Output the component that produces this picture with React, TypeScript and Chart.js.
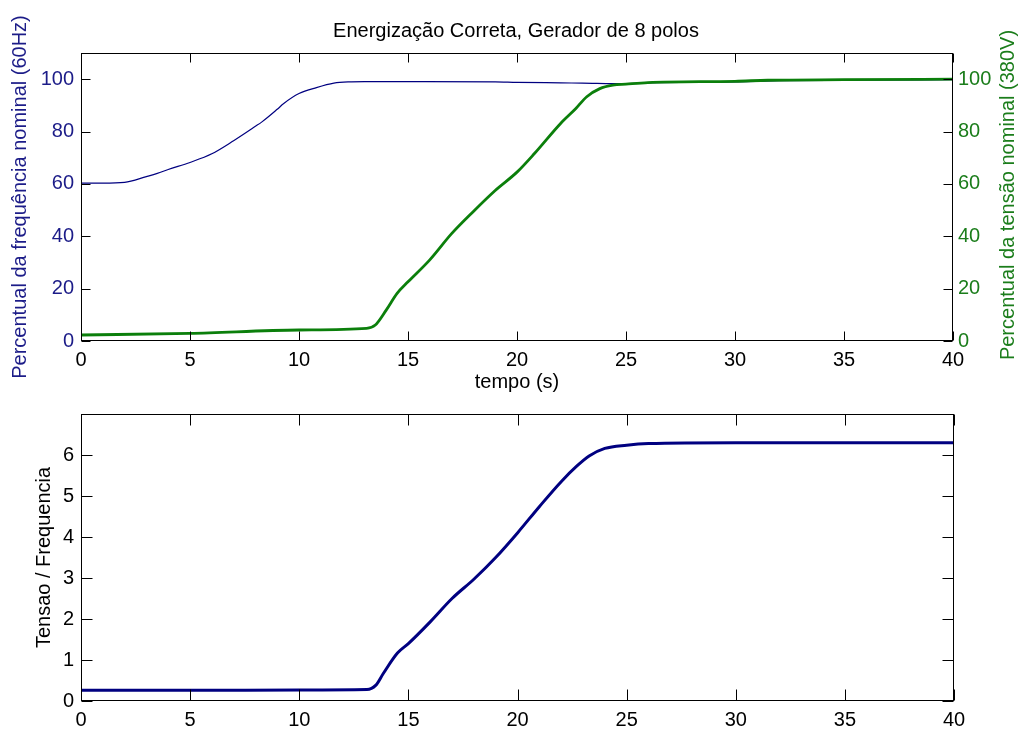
import React, { useEffect, useRef } from 'react';
import { Chart, registerables } from 'chart.js';

Chart.register(...registerables);

const FONT_FAMILY = "'Liberation Sans', Arial, Helvetica, sans-serif";
const BLUE = '#000080';
const BLUE_TEXT = '#1c1c88';
const GREEN = '#0b7f0b';
const GREEN_TEXT = '#1b7d1b';
const INK = '#000000';

const figureTitle = 'Energização Correta, Gerador de 8 polos';
const xAxisTitle = 'tempo (s)';
const freqAxisTitle = 'Percentual da frequência nominal (60Hz)';
const voltAxisTitle = 'Percentual da tensão nominal (380V)';
const ratioAxisTitle = 'Tensao / Frequencia';

const timeTicks = [0, 5, 10, 15, 20, 25, 30, 35, 40];
const pctTicks = [0, 20, 40, 60, 80, 100];
const ratioTicks = [0, 1, 2, 3, 4, 5, 6];

const freqTime = [0, 1, 2, 3, 3.5, 4, 5, 6, 7, 8, 8.3, 9, 9.3, 10, 10.8, 11.6, 12.4, 13, 15, 19, 20, 22, 23, 25, 26, 30, 32, 35, 40];
const freqPct = [60.3, 60.3, 60.6, 62.8, 64, 65.5, 68.2, 71.5, 76.5, 82, 83.7, 88.5, 90.7, 94.5, 96.8, 98.5, 99.0, 99.1, 99.1, 99.0, 98.8, 98.6, 98.5, 98.3, 98.6, 99.0, 99.4, 99.6, 99.8];

const voltTime = [0, 5, 10, 13.1, 13.5, 14, 14.5, 15, 16, 17, 18, 19, 20, 20.8, 22, 22.7, 23.2, 23.8, 24.4, 25, 26, 30, 31.5, 35, 40];
const voltPct = [2.3, 2.9, 4.2, 4.8, 6.1, 11.8, 18.2, 22.6, 31, 41, 49.5, 57.5, 64.5, 71.6, 83.1, 88.8, 93.3, 96.4, 97.7, 98.1, 98.7, 99.2, 99.6, 99.8, 100];

const ratioTime = [0, 5, 10, 13.1, 13.5, 13.85, 14.5, 15, 16, 17, 18, 19, 20, 21, 22, 22.7, 23.3, 24, 25, 26, 30, 35, 40];
const ratioVal = [0.26, 0.26, 0.27, 0.28, 0.38, 0.67, 1.17, 1.4, 1.93, 2.5, 2.97, 3.5, 4.1, 4.74, 5.35, 5.72, 5.98, 6.16, 6.24, 6.28, 6.3, 6.3, 6.3];

const font = (size: number) => ({ family: FONT_FAMILY, size, weight: 'normal' as const, lineHeight: 1.2 });

const toPoints = (xs: number[], ys: number[]) => xs.map((x, i) => ({ x, y: ys[i] }));

const setTicks = (values: number[]) => (scale: any) => {
  scale.ticks = values.map((v) => ({ value: v }));
};

const noGrid = { display: false, drawTicks: false, tickLength: 0 };

function framePlugin(rightId: string, tickLen: number) {
  return {
    id: 'matlabFrame',
    afterDraw(chart: any) {
      const { ctx, chartArea: a } = chart;
      const L = Math.round(a.left) + 0.5;
      const R = Math.round(a.right) - 0.5;
      const T = Math.round(a.top) + 0.5;
      const B = Math.round(a.bottom) - 0.5;
      ctx.save();
      ctx.strokeStyle = INK;
      ctx.lineWidth = 1;
      ctx.strokeRect(L, T, R - L, B - T);
      ctx.beginPath();
      const xs = chart.scales.x;
      xs.ticks.forEach((t: any) => {
        const p = Math.round(xs.getPixelForValue(t.value)) + 0.5;
        ctx.moveTo(p, B);
        ctx.lineTo(p, B - tickLen);
        ctx.moveTo(p, T);
        ctx.lineTo(p, T + tickLen);
      });
      const ys = chart.scales.y;
      ys.ticks.forEach((t: any) => {
        const p = Math.round(ys.getPixelForValue(t.value)) + 0.5;
        ctx.moveTo(L, p);
        ctx.lineTo(L + tickLen, p);
      });
      const rs = chart.scales[rightId];
      rs.ticks.forEach((t: any) => {
        const p = Math.round(rs.getPixelForValue(t.value)) + 0.5;
        ctx.moveTo(R, p);
        ctx.lineTo(R - tickLen, p);
      });
      ctx.stroke();
      ctx.restore();
    },
  };
}

const topTextPlugin = {
  id: 'topTexts',
  afterDraw(chart: any) {
    const { ctx, chartArea: a } = chart;
    ctx.save();
    ctx.font = `20px ${FONT_FAMILY}`;
    ctx.fillStyle = INK;
    ctx.textAlign = 'center';
    ctx.textBaseline = 'alphabetic';
    ctx.fillText(figureTitle, (a.left + a.right) / 2 - 1, 37);
    ctx.translate(1014, (a.top + a.bottom) / 2 - 2);
    ctx.rotate(-Math.PI / 2);
    ctx.fillStyle = GREEN_TEXT;
    ctx.fillText(voltAxisTitle, 0, 0);
    ctx.restore();
  },
};

export default function App() {
  const topRef = useRef<HTMLCanvasElement>(null);
  const bottomRef = useRef<HTMLCanvasElement>(null);

  useEffect(() => {
    if (!topRef.current || !bottomRef.current) return;

    const top = new Chart(topRef.current, {
      type: 'line',
      data: {
        datasets: [
          {
            label: 'Tensão',
            data: toPoints(voltTime, voltPct),
            yAxisID: 'y2',
            borderColor: GREEN,
            borderWidth: 2.8,
            pointRadius: 0,
            cubicInterpolationMode: 'monotone',
            order: 0,
          },
          {
            label: 'Frequência',
            data: toPoints(freqTime, freqPct),
            yAxisID: 'y',
            borderColor: BLUE,
            borderWidth: 1.2,
            pointRadius: 0,
            cubicInterpolationMode: 'monotone',
            order: 1,
          },
        ],
      },
      options: {
        responsive: false,
        animation: false,
        events: [],
        layout: { padding: { top: 53, left: 0, right: 0, bottom: 0 } },
        plugins: { legend: { display: false }, title: { display: false }, tooltip: { enabled: false } },
        scales: {
          x: {
            type: 'linear',
            position: 'bottom',
            min: 0,
            max: 40,
            grid: noGrid,
            border: { display: false },
            ticks: { font: font(20), color: INK, padding: 7, maxRotation: 0, autoSkip: false },
            afterBuildTicks: setTicks(timeTicks),
            afterFit: (s: any) => { s.height = 54; },
            title: { display: true, text: xAxisTitle, color: INK, font: font(20), padding: { top: 0, bottom: 1 } },
          },
          y: {
            type: 'linear',
            position: 'left',
            min: 0,
            max: 110,
            grid: noGrid,
            border: { display: false },
            ticks: { font: font(20), color: BLUE_TEXT, padding: 7, autoSkip: false },
            afterBuildTicks: setTicks(pctTicks),
            afterFit: (s: any) => { s.width = 81; },
            title: { display: true, text: freqAxisTitle, color: BLUE_TEXT, font: font(20), padding: { top: 8, bottom: 0 } },
          },
          y2: {
            type: 'linear',
            position: 'right',
            min: 0,
            max: 110,
            grid: noGrid,
            border: { display: false },
            ticks: { font: font(20), color: GREEN_TEXT, padding: 5, autoSkip: false },
            afterBuildTicks: setTicks(pctTicks),
            afterFit: (s: any) => { s.width = 70; },
          },
        },
      },
      plugins: [framePlugin('y2', 9), topTextPlugin],
    } as any);

    const bottom = new Chart(bottomRef.current, {
      type: 'line',
      data: {
        datasets: [
          {
            label: 'Tensao / Frequencia',
            data: toPoints(ratioTime, ratioVal),
            borderColor: BLUE,
            borderWidth: 3,
            pointRadius: 0,
            cubicInterpolationMode: 'monotone',
          },
        ],
      },
      options: {
        responsive: false,
        animation: false,
        events: [],
        layout: { padding: { top: 18, left: 0, right: 69, bottom: 0 } },
        plugins: { legend: { display: false }, title: { display: false }, tooltip: { enabled: false } },
        scales: {
          x: {
            type: 'linear',
            position: 'bottom',
            min: 0,
            max: 40,
            grid: noGrid,
            border: { display: false },
            ticks: { font: font(20), color: INK, padding: 7, maxRotation: 0, autoSkip: false },
            afterBuildTicks: setTicks(timeTicks),
            afterFit: (s: any) => { s.height = 30; },
          },
          y: {
            type: 'linear',
            position: 'left',
            min: 0,
            max: 7,
            grid: noGrid,
            border: { display: false },
            ticks: { font: font(20), color: INK, padding: 7, autoSkip: false },
            afterBuildTicks: setTicks(ratioTicks),
            afterFit: (s: any) => { s.width = 81; },
            title: { display: true, text: ratioAxisTitle, color: INK, font: font(20), padding: { top: 32, bottom: 0 } },
          },
        },
      },
      plugins: [framePlugin('y', 11)],
    } as any);

    return () => {
      top.destroy();
      bottom.destroy();
    };
  }, []);

  return (
    <div style={{ position: 'absolute', left: 0, top: 0, width: 1023, height: 731, background: '#ffffff', overflow: 'hidden' }}>
      <canvas ref={topRef} width={1023} height={395} style={{ position: 'absolute', left: 0, top: 0 }} />
      <canvas ref={bottomRef} width={1023} height={336} style={{ position: 'absolute', left: 0, top: 395 }} />
    </div>
  );
}
